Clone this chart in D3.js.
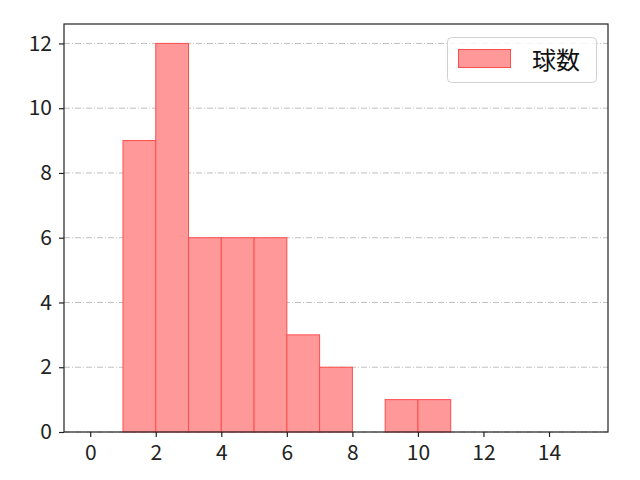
<!DOCTYPE html>
<html><head><meta charset="utf-8">
<script src="https://cdn.jsdelivr.net/npm/d3@7"></script>
<style>body{margin:0;background:#fff}svg{display:block}text{font-family:"Noto Sans CJK JP","DejaVu Sans",sans-serif}</style>
</head><body><svg id="c" width="640" height="480"></svg>
<script>
const binStarts = [1,2,3,4,5,6,7,8,9,10];
const counts = [9,12,6,6,6,3,2,0,1,1];
const xTicks = [0,2,4,6,8,10,12,14];
const yTicks = [0,2,4,6,8,10,12];
const seriesName = "球数";

const svg = d3.select("#c");
const L=64, R=608, T=24, B=432;
const x = d3.scaleLinear().domain([-0.8,15.8]).range([L,R]);
const y = d3.scaleLinear().domain([0,12.6]).range([B,T]);

// grid
svg.append("g").selectAll("line").data(yTicks).join("line")
  .attr("x1",L).attr("x2",R).attr("y1",d=>y(d)).attr("y2",d=>y(d))
  .attr("stroke","#b0b0b0").attr("stroke-width",0.8).attr("stroke-dasharray","6,2,1,2");

// bars
svg.append("g").selectAll("rect").data(binStarts.map((s,i)=>({s,c:counts[i]})).filter(d=>d.c>0)).join("rect")
  .attr("x",d=>x(d.s)).attr("width",d=>x(d.s+1)-x(d.s))
  .attr("y",d=>y(d.c)).attr("height",d=>y(0)-y(d.c))
  .attr("fill","#ff9999").attr("stroke","#ff4d4d").attr("stroke-width",1);

// axes
const xa = svg.append("g").attr("transform",`translate(0,${B})`)
  .call(d3.axisBottom(x).tickValues(xTicks).tickSize(5).tickPadding(8).tickFormat(d3.format("d")));
const ya = svg.append("g").attr("transform",`translate(${L},0)`)
  .call(d3.axisLeft(y).tickValues(yTicks).tickSize(5).tickPadding(7).tickFormat(d3.format("d")));
[xa,ya].forEach(a=>{a.attr("font-size",null).attr("font-family",null);
  a.select(".domain").remove();a.selectAll("line").attr("stroke","#222").attr("stroke-width",1.2);
  a.selectAll("text").attr("font-size",21).attr("fill","#222");});
svg.append("rect").attr("x",L).attr("y",T).attr("width",R-L).attr("height",B-T)
  .attr("fill","none").attr("stroke","#222").attr("stroke-width",1.2);

// legend
const lg = svg.append("g");
lg.append("rect").attr("x",447.5).attr("y",37.5).attr("width",149).attr("height",45).attr("rx",4)
  .attr("fill","#fff").attr("fill-opacity",0.8).attr("stroke","#d0d0d0");
lg.append("rect").attr("x",458.5).attr("y",49.5).attr("width",52).attr("height",18)
  .attr("fill","#ff9999").attr("stroke","#ff4d4d");
lg.append("text").attr("x",532).attr("y",69).attr("font-size",24).attr("fill","#111").text(seriesName);
</script></body></html>
